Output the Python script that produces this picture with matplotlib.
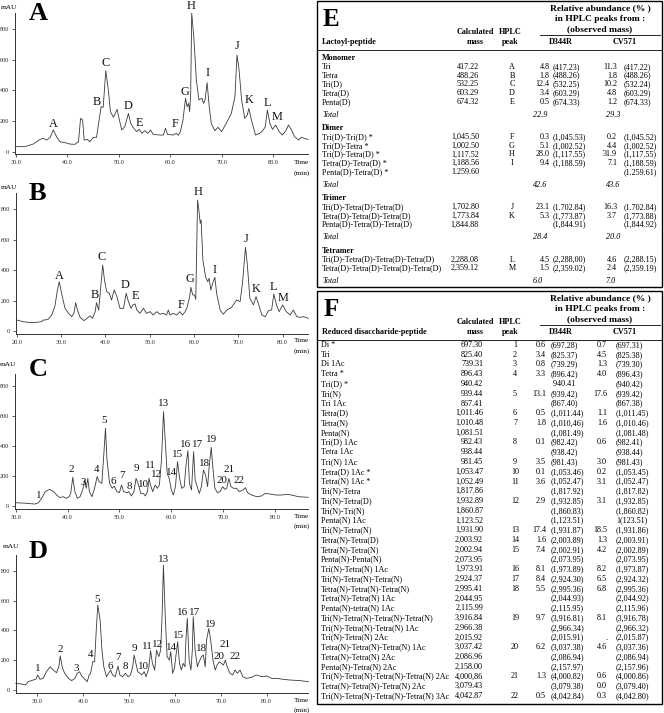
import matplotlib
matplotlib.use('Agg')
import matplotlib.pyplot as plt
from matplotlib.transforms import Affine2D
from matplotlib.lines import Line2D
from matplotlib.patches import Rectangle

# ---------------- chromatogram data (time min, mAU) ----------------
A_trace = [(30.0,33),(31.8,33),(33.4,50),(34.7,80),(35.4,87),(36.0,76),(36.7,94),(37.3,142),(38.0,94),(38.6,65),
           (39.6,59),(40.5,50),(41.5,48),(42.2,65),(42.6,218),(43.0,207),(43.3,76),(43.9,80),(44.4,65),(45.1,94),
           (45.7,94),(46.2,207),(46.6,294),(47.0,290),(47.5,530),(48.0,403),(48.4,262),(49.0,225),(49.5,262),(49.7,277),
           (50.0,229),(50.6,142),(51.2,163),(51.9,250),(52.3,190),(52.8,159),(53.5,131),(54.0,146),(54.5,120),(55.1,137),
           (55.7,120),(56.2,142),(56.7,113),(58.0,109),(58.7,109),(59.1,153),(59.5,113),(60.6,109),(61.2,120),(61.6,107),
           (62.0,131),(62.5,207),(63.0,349),(63.3,294),(63.6,316),(63.8,262),(64.0,381),(64.2,905),(64.6,752),(65.1,469),
           (65.6,338),(66.2,349),(66.5,316),(66.8,338),(67.2,451),(67.6,294),(68.0,185),(68.7,137),(69.3,159),(70.0,131),
           (70.9,185),(71.9,250),(72.6,360),(73.0,632),(73.4,534),(73.9,338),(74.5,218),(75.0,240),(75.3,283),(75.8,207),
           (76.6,109),(77.4,120),(78.0,137),(78.5,163),(78.9,272),(79.4,185),(79.9,146),(80.5,174),(81.2,131),(81.8,109),
           (82.5,137),(83.0,174),(83.6,142),(84.2,98),(85.0,76),(85.5,94),(86.1,87),(86.8,80)]
B_trace = [(20.0,72),(21.5,61),(23.0,55),(24.5,57),(25.6,61),(26.0,72),(26.4,72),(27.1,77),(27.9,105),(28.6,160),
           (29.2,270),(29.6,324),(30.2,237),(30.9,149),(31.7,116),(32.4,94),(32.9,116),(33.3,186),(33.7,138),(34.3,90),
           (35.2,68),(35.9,83),(36.5,99),(37.1,83),(37.7,127),(38.0,186),(38.5,138),(38.9,270),(39.4,434),(39.8,335),
           (40.3,259),(40.9,248),(41.4,204),(42.0,270),(42.6,226),(43.3,149),(44.1,149),(44.7,248),(45.2,193),(45.8,149),
           (46.2,171),(46.7,178),(47.1,138),(47.8,116),(48.6,149),(49.3,116),(50.1,127),(50.8,105),(51.6,127),(52.3,110),
           (53.1,116),(53.8,105),(54.2,138),(54.6,105),(55.3,116),(56.1,105),(56.8,127),(57.4,105),(58.0,127),(58.5,160),
           (59.0,226),(59.3,287),(59.7,237),(60.1,237),(60.4,208),(60.8,861),(61.1,795),(61.4,708),(61.6,730),(62.0,467),
           (62.6,357),(63.1,324),(63.4,346),(63.8,270),(64.2,313),(64.7,353),(65.1,248),(65.9,138),(66.6,110),(67.4,138),
           (68.5,156),(69.6,204),(70.4,193),(71.0,335),(71.6,550),(72.0,445),(72.6,215),(73.4,171),(74.0,226),(74.6,171),
           (75.3,105),(76.1,94),(76.8,134),(77.5,138),(78.0,243),(78.6,171),(79.2,127),(80.0,171),(80.8,127),(81.7,105),
           (82.4,138),(83.2,94),(83.9,90),(84.7,94),(85.8,83)]
C_trace = [(30.0,22),(32.1,18),(33.7,13),(34.4,22),(35.0,51),(35.7,96),(36.5,111),(37.3,96),(37.9,73),(38.5,56),
           (39.2,62),(39.7,51),(40.3,62),(40.6,84),(41.0,191),(41.4,96),(41.9,51),(42.4,62),(42.9,107),(43.3,173),
           (43.6,118),(43.9,184),(44.2,96),(44.7,62),(45.2,118),(45.7,196),(46.1,162),(46.6,151),(47.0,351),(47.3,518),
           (47.6,307),(48.1,151),(48.6,118),(49.0,133),(49.5,96),(50.0,89),(50.4,140),(50.8,96),(51.4,89),(51.8,96),
           (52.3,67),(52.8,96),(53.2,184),(53.7,140),(54.1,84),(54.6,84),(55.0,67),(55.4,96),(55.7,184),(56.0,140),
           (56.4,96),(56.9,140),(57.3,118),(57.7,140),(58.1,307),(58.5,629),(58.9,396),(59.2,218),(59.6,184),(60.0,107),
           (60.4,73),(60.8,129),(61.2,296),(61.6,184),(62.0,118),(62.5,129),(62.8,262),(63.2,369),(63.5,151),(63.9,107),
           (64.3,362),(64.6,173),(65.0,129),(65.4,84),(65.8,129),(66.2,240),(66.6,207),(67.0,129),(67.3,262),(67.7,391),
           (68.0,262),(68.4,118),(68.9,89),(69.4,96),(69.9,129),(70.3,111),(70.7,118),(71.1,184),(71.5,129),(72.0,118),
           (72.6,118),(73.1,96),(73.8,107),(74.3,122),(74.7,89),(75.5,73),(76.5,62),(77.4,67),(78.1,84),(79.0,80),
           (80.3,73),(81.3,73),(82.2,78),(83.2,73),(84.5,62),(86.4,58)]
D_trace = [(25.3,45),(26.6,40),(27.5,34),(28.0,56),(29.1,67),(29.7,72),(30.1,101),(30.6,72),(31.3,78),(32.0,123),
           (32.8,156),(33.5,134),(34.2,116),(34.7,156),(35.0,228),(35.5,145),(36.0,112),(36.8,78),(37.5,63),(38.2,78),
           (38.7,112),(39.2,123),(39.7,94),(40.4,72),(40.9,56),(41.3,101),(41.6,107),(42.1,190),(42.5,190),(42.9,425),
           (43.2,570),(43.7,469),(44.1,268),(44.5,156),(45.1,89),(45.6,116),(46.0,134),(46.4,101),(47.0,89),(47.6,161),
           (48.0,101),(48.6,89),(49.2,112),(49.8,89),(50.3,101),(50.8,156),(51.1,235),(51.5,179),(51.9,123),(52.4,112),
           (52.8,101),(53.3,123),(53.7,89),(54.3,145),(54.7,264),(55.1,179),(55.6,134),(56.0,268),(56.5,224),(56.9,268),
           (57.2,492),(57.5,838),(57.9,492),(58.3,224),(58.8,201),(59.1,257),(59.5,112),(59.9,145),(60.2,224),(60.6,324),
           (61.0,179),(61.4,134),(61.8,179),(62.2,156),(62.4,335),(62.7,480),(63.1,201),(63.5,134),(63.8,268),(64.0,492),
           (64.4,268),(64.9,156),(65.3,190),(65.8,224),(66.2,235),(66.6,156),(66.9,335),(67.4,413),(67.8,335),(68.3,201),
           (68.8,134),(69.2,168),(69.7,190),(70.1,179),(70.6,168),(71.0,201),(71.4,156),(72.0,112),(72.6,101),(73.1,134),
           (73.6,112),(74.2,134),(74.8,89),(75.6,78),(76.7,85),(77.8,101),(78.9,89),(80.0,94),(81.1,78),(82.2,78),
           (83.6,72),(85.1,67),(87.3,63),(89.1,56)]

# peak labels: (text, time, mAU)
A_labels = [('A',37.3,181),('B',45.7,327),('C',47.4,582),('D',51.9,298),('E',54.1,185),('F',61.0,181),('G',62.9,392),
            ('H',64.1,952),('I',67.2,512),('J',73.0,689),('K',75.3,338),('L',78.9,320),('M',80.8,229)]
B_labels = [('A',29.6,362),('B',37.6,237),('C',39.2,489),('D',44.5,302),('E',46.8,230),('F',57.1,171),('G',59.1,340),
            ('H',60.9,916),('I',64.6,401),('J',71.7,603),('K',74.1,274),('L',78.0,291),('M',80.0,219)]
C_labels = [('1',34.5,73),('2',40.8,240),('3',43.0,156),('4',45.6,244),('5',47.1,567),('6',48.9,162),('7',50.6,202),
            ('8',51.9,129),('9',53.3,247),('10',54.7,144),('11',55.9,267),('12',57.2,207),('13',58.5,684),('14',60.1,222),
            ('15',61.2,344),('16',62.7,411),('17',65.0,411),('18',66.4,284),('19',67.7,440),('20',69.7,169),('21',71.2,244),
            ('22',73.0,169)]
D_labels = [('1',30.2,145),('2',35.0,273),('3',38.4,145),('4',41.6,241),('5',43.0,608),('6',46.0,161),('7',47.7,215),
            ('8',49.3,156),('9',51.1,279),('10',53.1,156),('11',54.1,291),('12',56.2,302),('13',57.5,876),('14',59.3,286),
            ('15',60.7,364),('16',61.6,523),('17',64.4,523),('18',65.7,279),('19',67.8,442),('20',69.5,228),('21',70.9,306),
            ('22',73.0,228)]

A_xticks = [30, 40, 50, 60, 70, 80]
B_xticks = [20, 30, 40, 50, 60, 70, 80]
C_xticks = [30, 40, 50, 60, 70, 80]
D_xticks = [30, 40, 50, 60, 70, 80]
y_ticks = [0, 200, 400, 600, 800]

# ---------------- table E data ----------------
E_groups = ['Monomer', 'Dimer', 'Trimer', 'Tetramer']
E_group_sizes = [5, 5, 3, 2]
E_peptide = ['Tri', 'Tetra', 'Tri(D)', 'Tetra(D)', 'Penta(D)',
             'Tri(D)-Tri(D) *', 'Tri(D)-Tetra *', 'Tri(D)-Tetra(D) *', 'Tetra(D)-Tetra(D) *', 'Penta(D)-Tetra(D) *',
             'Tri(D)-Tetra(D)-Tetra(D)', 'Tetra(D)-Tetra(D)-Tetra(D)', 'Penta(D)-Tetra(D)-Tetra(D)',
             'Tri(D)-Tetra(D)-Tetra(D)-Tetra(D)', 'Tetra(D)-Tetra(D)-Tetra(D)-Tetra(D)']
E_mass = ['417.22', '488.26', '532.25', '603.29', '674.32',
          '1,045.50', '1,002.50', '1,117.52', '1,188.56', '1.259.60',
          '1,702.80', '1,773.84', '1,844.88', '2,288.08', '2,359.12']
E_peak = ['A', 'B', 'C', 'D', 'E', 'F', 'G', 'H', 'I', '', 'J', 'K', '', 'L', 'M']
E_d344r = ['4.8', '1.8', '12.4', '3.4', '0.5', '0.3', '5.1', '28.0', '9.4', '', '23.1', '5.3', '', '4.5', '1.5']
E_d344r_obs = ['(417.23)', '(488.26)', '(532.25)', '(603.29)', '(674.33)',
               '(1,045.53)', '(1,002.52)', '(1,117.55)', '(1,188.59)', '',
               '(1.702.84)', '(1,773.87)', '(1,844.91)', '(2,288,00)', '(2,359.02)']
E_cv571 = ['11.3', '1.8', '10.2', '4.8', '1.2', '0.2', '4.4', '31.9', '7.1', '', '16.3', '3.7', '', '4.6', '2.4']
E_cv571_obs = ['(417.22)', '(488.26)', '(532.24)', '(603.29)', '(674.33)',
               '(1,045.52)', '(1,002.52)', '(1,117.55)', '(1,188.59)', '(1.259.61)',
               '(1.702.84)', '(1,773.88)', '(1,844.92)', '(2,288.15)', '(2,359.19)']
E_total_d344r = ['22.9', '42.6', '28.4', '6.0']
E_total_cv571 = ['29.3', '43.6', '20.0', '7.0']

# ---------------- table F data ----------------
F_peptide = ['Di *', 'Tri', 'Di 1Ac', 'Tetra *', 'Tri(D) *', 'Tri(N)', 'Tri 1Ac', 'Tetra(D)', 'Tetra(N)', 'Penta(N)',
             'Tri(D) 1Ac', 'Tetra 1Ac', 'Tri(N) 1Ac', 'Tetra(D) 1Ac *', 'Tetra(N) 1Ac *', 'Tri(N)-Tetra',
             'Tri(N)-Tetra(D)', 'Tri(N)-Tri(N)', 'Penta(N) 1Ac', 'Tri(N)-Tetra(N)', 'Tetra(N)-Tetra(D)',
             'Tetra(N)-Tetra(N)', 'Penta(N)-Penta(N)', 'Tri(N)-Tetra(N) 1Ac', 'Tri(N)-Tetra(N)-Tetra(N)',
             'Tetra(N)-Tetra(N)-Tetra(N)', 'Tetra(N)-Tetra(N) 1Ac', 'Penta(N)-tetra(N) 1Ac',
             'Tri(N)-Tetra(N)-Tetra(N)-Tetra(N)', 'Tri(N)-Tetra(N)-Tetra(N) 1Ac', 'Tri(N)-Tetra(N) 2Ac',
             'Tetra(N)-Tetra(N)-Tetra(N) 1Ac', 'Tetra(N)-Tetra(N) 2Ac', 'Penta(N)-Tetra(N) 2Ac',
             'Tri(N)-Tetra(N)-Tetra(N)-Tetra(N) 2Ac', 'Tetra(N)-Tetra(N)-Tetra(N) 2Ac',
             'Tri(N)-Tetra(N)-Tetra(N)-Tetra(N) 3Ac']
F_mass = ['697.30', '825.40', '739.31', '896.43', '940.42', '939.44', '867.41', '1,011.46', '1,010.48', '1,081.51',
          '982.43', '938.44', '981.45', '1,053.47', '1,052.49', '1,817.86', '1,932.89', '1,860.87', '1,123.52',
          '1,931.90', '2,003.92', '2,002.94', '2,073.95', '1,973.91', '2,924.37', '2,995.41', '2,044.95', '2,115.99',
          '3,916.84', '2,966.38', '2,015.92', '3,037.42', '2,086.96', '2,158.00', '4,000,86', '3,079.43', '4,042.87']
F_peak = ['1', '2', '3', '4', '', '5', '', '6', '7', '', '8', '', '9', '10', '11', '', '12', '', '', '13', '14', '15',
          '', '16', '17', '18', '', '', '19', '', '', '20', '', '', '21', '', '22']
F_d344r = ['0.6', '3.4', '0.8', '3.3', '', '13.1', '', '0.5', '1.8', '', '0.1', '', '3.5', '0.1', '3.6', '', '2.9',
           '', '', '17.4', '1.6', '7.4', '', '8.1', '8.4', '5.5', '', '', '9.7', '', '', '6.2', '', '', '1.3', '', '0.5']
F_d344r_obs = ['(697.28)', '(825.37)', '(739.29)', '(896.42)', ' 940.41', '(939.42)', '(867.40)', '(1,011.44)',
               '(1,010,46)', '(1,081.49)', '(982.42)', '(938.42)', '(981.43)', '(1,053.46)', '(1,052.47)',
               '(1,817.92)', '(1,932.85)', '(1,860.83)', '(1,123.51)', '(1,931.87)', '(2,003.89)', '(2,002.91)',
               '(2,073.95)', '(1,973.89)', '(2,924.30)', '(2,995.36)', '(2,044.93)', '(2,115.95)', '(3,916.81)',
               '(2,966.34)', '(2,015.91)', '(3,037.38)', '(2,086.94)', '(2,157.97)', '(4,000.82)', '(3,079.38)',
               '(4,042.84)']
F_cv571 = ['0.7', '4.5', '1.3', '4.0', '', '17.6', '', '1.1', '1.6', '', '0.6', '', '3.0', '0.2', '3.1', '', '3.1',
           '', '', '18.5', '1.3', '4.2', '', '8.2', '6.5', '6.8', '', '', '8.1', '', '.', '4.6', '', '', '0.6', '0.0',
           '0.3']
F_cv571_obs = ['(697.31)', '(825.38)', '(739.30)', '(896.43)', '(940.42)', '(939.42)', '(867.38)', '(1,011.45)',
               '(1,010.46)', '(1,081.48)', '(982.41)', '(938.44)', '(981.43)', '(1,053.45)', '(1,052.47)',
               '(1,817.82)', '(1,932.85)', '(1,860.82)', '1(123.51)', '(1,931.86)', '(2,003.91)', '(2,002.89)',
               '(2,073.95)', '(1,973.87)', '(2,924.32)', '(2,995.36)', '(2,044.92)', '(2,115.96)', '(3,916.78)',
               '(2,966.32)', '(2,015.87)', '(3,037.36)', '(2,086.94)', '(2,157.96)', '(4,000.86)', '(3,079.40)',
               '(4,042.80)']

# ---------------- figure ----------------
W, H = 664, 713
SERIF = ['Liberation Serif', 'DejaVu Serif']
plt.rcParams['font.family'] = SERIF
fig = plt.figure(figsize=(W / 100, H / 100), dpi=100)
PX = Affine2D().scale(1.0 / W, -1.0 / H).translate(0, 1) + fig.transFigure
BODY = 5.9


def ptext(x, y, s, **kw):
    kw.setdefault('va', 'center')
    kw.setdefault('fontsize', BODY)
    kw.setdefault('color', 'black')
    fig.text(x, y, s, transform=PX, **kw)


def pline(x0, x1, y0, y1, lw=0.7):
    fig.add_artist(Line2D([x0, x1], [y0, y1], transform=PX, color='black', lw=lw))


panels = [
    dict(trace=A_trace, labels=A_labels, xticks=A_xticks, letter='A', xlim=(29.8, 86.8), ylim=(-15, 905),
         px=(14.7, 308.0, 13.2, 154.0), mau=(1, 7.5), time=(301, 162.7), let=(38.5, 13)),
    dict(trace=B_trace, labels=B_labels, xticks=B_xticks, letter='B', xlim=(19.8, 85.8), ylim=(-20, 905),
         px=(15.8, 308.4, 193.4, 334.0), mau=(1, 187.5), time=(301, 340.7), let=(37.5, 193)),
    dict(trace=C_trace, labels=C_labels, xticks=C_xticks, letter='C', xlim=(29.8, 86.4), ylim=(-22, 880),
         px=(14.7, 308.2, 374.0, 509.3), mau=(0, 364), time=(301, 516), let=(38, 370)),
    dict(trace=D_trace, labels=D_labels, xticks=D_xticks, letter='D', xlim=(25.3, 89.1), ylim=(-22, 905),
         px=(15.7, 308.4, 555.1, 693.3), mau=(3, 546), time=(301, 700), let=(38, 552)),
]

for p in panels:
    x0, x1, yt, yb = p['px']
    ax = fig.add_axes([x0 / W, 1 - yb / H, (x1 - x0) / W, (yb - yt) / H])
    t = [a for a, b in p['trace']]
    v = [b for a, b in p['trace']]
    ax.plot(t, v, color='#3a3a3a', lw=0.6, clip_on=False)
    ax.set_xlim(*p['xlim'])
    ax.set_ylim(*p['ylim'])
    ax.set_xticks(p['xticks'])
    ax.set_xticklabels(['%.1f' % x for x in p['xticks']])
    ax.set_yticks(y_ticks)
    ax.set_yticklabels([str(y) for y in y_ticks])
    for s in ['top', 'right']:
        ax.spines[s].set_visible(False)
    for s in ['left', 'bottom']:
        ax.spines[s].set_linewidth(0.7)
        ax.spines[s].set_color('#333333')
    ax.tick_params(labelsize=4.4, length=2, width=0.5, pad=2.2, colors='#222222')
    ax.patch.set_alpha(0)
    for lab, lt, lv in p['labels']:
        fs = 8.8 if lab.isalpha() else 7.9
        ax.text(lt, lv, lab, ha='center', va='center', fontsize=fs, color='#111111')
    ptext(p['mau'][0], p['mau'][1], 'mAU', ha='left', fontsize=5.3)
    ptext(p['time'][0], p['time'][1], 'Time', ha='center', fontsize=5.2)
    ptext(p['time'][0] + 1, p['time'][1] + 10, '(min)', ha='center', fontsize=5.2)
    ptext(p['let'][0], p['let'][1], p['letter'], ha='center', fontsize=19, fontweight='bold')

# ---------------- table drawing ----------------
BOX_L, BOX_R = 317, 662


def table_header(top, letter, first_col):
    ptext(331, top + 18, letter, ha='center', fontsize=18, fontweight='bold')
    ptext(600, top + 7.5, 'Relative abundance (% )', ha='center', fontweight='bold', fontsize=6.8)
    ptext(600, top + 18, 'in HPLC peaks from :', ha='center', fontweight='bold', fontsize=6.8)
    ptext(600, top + 28, '(observed mass)', ha='center', fontweight='bold', fontsize=6.8)
    pline(540, 660, top + 34, top + 34, lw=0.6)
    ptext(475, top + 31.5, 'Calculated', ha='center', fontweight='bold')
    ptext(475, top + 41.5, 'mass', ha='center', fontweight='bold')
    ptext(510, top + 31.5, 'HPLC', ha='center', fontweight='bold')
    ptext(510, top + 41.5, 'peak', ha='center', fontweight='bold')
    ptext(561, top + 41.5, 'D344R', ha='center', fontweight='bold')
    ptext(625, top + 41.5, 'CV571', ha='center', fontweight='bold')
    ptext(322, top + 41.5, first_col, ha='left', fontweight='bold')
    pline(BOX_L, BOX_R, top + 48.5, top + 48.5, lw=0.6)


# Table E
E_top, E_bot = 1, 287
fig.add_artist(Rectangle((BOX_L, E_top), BOX_R - BOX_L, E_bot - E_top, transform=PX, fill=False,
                         ec='black', lw=1.0))
table_header(E_top, 'E', 'Lactoyl-peptide')
pitch, a_gap, b_gap = 8.8, 4.0, 4.5
y = 58.0
k = 0
for gi, g in enumerate(E_groups):
    ptext(322, y, g, ha='left', fontweight='bold')
    for i in range(E_group_sizes[gi]):
        y += pitch
        ptext(322, y, E_peptide[k], ha='left')
        ptext(479, y, E_mass[k], ha='right')
        ptext(512, y, E_peak[k], ha='center')
        ptext(549.5, y, E_d344r[k], ha='right')
        ptext(553, y, E_d344r_obs[k], ha='left')
        ptext(617, y, E_cv571[k], ha='right')
        ptext(624, y, E_cv571_obs[k], ha='left')
        k += 1
    y += pitch + a_gap
    ptext(322, y, 'Total', ha='left', style='italic')
    ptext(533, y, E_total_d344r[gi], ha='left', style='italic')
    ptext(606, y, E_total_cv571[gi], ha='left', style='italic')
    y += pitch + b_gap

# Table F
F_top, F_bot = 291, 704
fig.add_artist(Rectangle((BOX_L, F_top), BOX_R - BOX_L, F_bot - F_top, transform=PX, fill=False,
                         ec='black', lw=1.0))
table_header(F_top, 'F', 'Reduced disaccharide-peptide')
f_pitch = 9.75
for i in range(len(F_peptide)):
    y = F_top + 54 + i * f_pitch
    ptext(321, y, F_peptide[i], ha='left')
    ptext(483, y, F_mass[i], ha='right')
    ptext(515, y, F_peak[i], ha='center')
    ptext(546, y, F_d344r[i], ha='right')
    ptext(551, y, F_d344r_obs[i], ha='left')
    ptext(607, y, F_cv571[i], ha='right')
    ptext(616, y, F_cv571_obs[i], ha='left')

fig.savefig('out.png', dpi=100)
